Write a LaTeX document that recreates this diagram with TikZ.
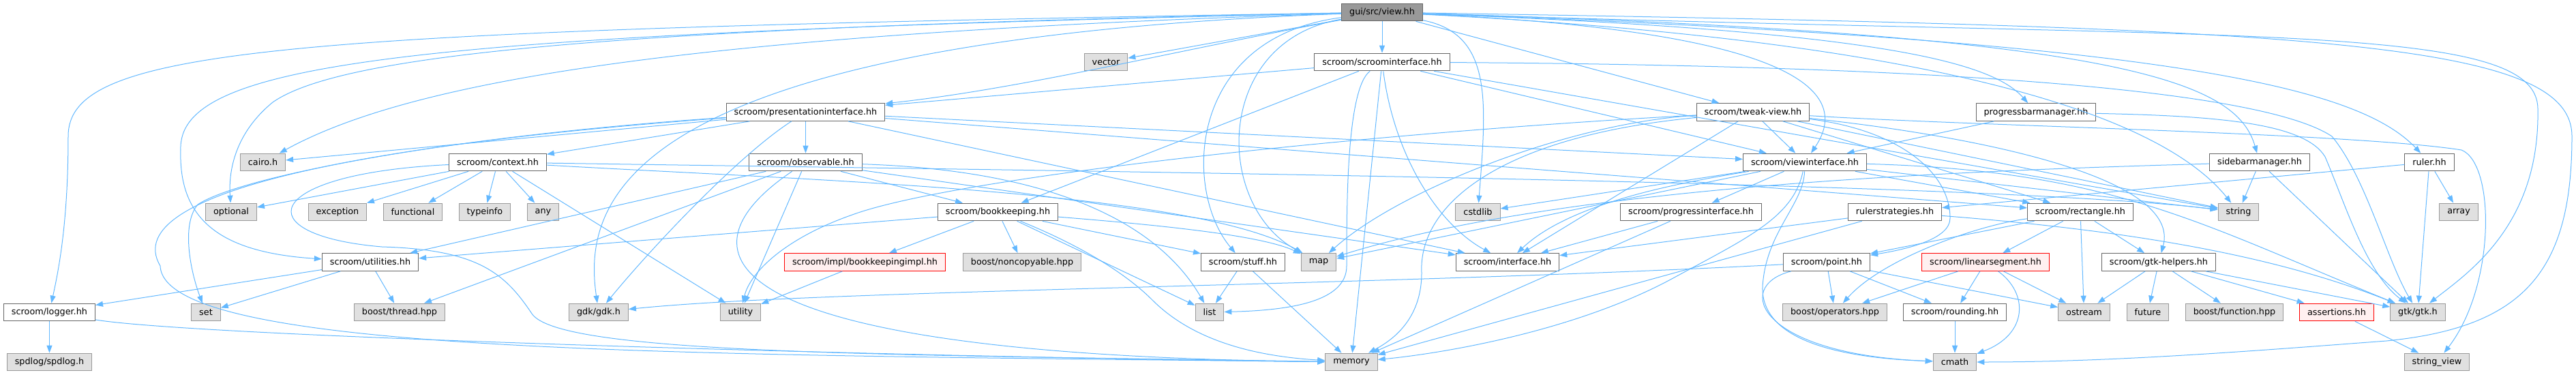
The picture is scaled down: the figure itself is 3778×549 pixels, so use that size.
\documentclass[tikz,border=0pt]{standalone}
\usepackage{fontspec}
\setmainfont{DejaVu Sans}
\usetikzlibrary{arrows.meta}
\definecolor{depblue}{HTML}{63B8FF}
\definecolor{boxgrey}{HTML}{666666}
\definecolor{sysgrey}{HTML}{999999}
\definecolor{sysfill}{HTML}{E0E0E0}
\definecolor{rootfill}{HTML}{999999}
\definecolor{cutfill}{HTML}{FFF0F0}
\tikzset{%
  filebox/.style = {shape=rectangle, draw=boxgrey, fill=white, line width=1pt,%
                    minimum height=25.7pt, inner xsep=11.5pt, inner ysep=0pt,%
                    font=\fontsize{12.8}{15}\selectfont},%
  sysbox/.style  = {filebox, draw=sysgrey, fill=sysfill},%
  rootbox/.style = {filebox, fill=rootfill},%
  cutbox/.style  = {filebox, draw=red, fill=cutfill},%
  dep/.style     = {draw=depblue, line width=1pt,%
                    -{Triangle[length=11pt,width=8pt]}}%
}
\begin{document}
\begin{tikzpicture}[x=1pt, y=-1pt]
\useasboundingbox (0,0) rectangle (3778,549);
% row 0
\node[rootbox] (view)        at (2027,18)      {gui/src/view.hh};
% row 1
\node[sysbox]  (vector)      at (1622,91)      {vector};
\node[filebox] (scroomif)    at (2027,91)      {scroom/scroominterface.hh};
% row 2
\node[filebox] (presif)      at (1181.5,164.5) {scroom/presentationinterface.hh};
\node[filebox] (tweakview)   at (2571,164.5)   {scroom/tweak-view.hh};
\node[filebox] (pbarmgr)     at (2986,164.5)   {progressbarmanager.hh};
% row 3
\node[sysbox]  (cairo)       at (385.5,238)    {cairo.h};
\node[filebox] (context)     at (730,238)      {scroom/context.hh};
\node[filebox] (observable)  at (1181.5,238)   {scroom/observable.hh};
\node[filebox] (viewif)      at (2647,238)     {scroom/viewinterface.hh};
\node[filebox] (sidebarmgr)  at (3314,238)     {sidebarmanager.hh};
\node[filebox] (ruler)       at (3563,238)     {ruler.hh};
% row 4
\node[sysbox]  (optional)    at (339,311)      {optional};
\node[sysbox]  (exception)   at (495,311)      {exception};
\node[sysbox]  (functional)  at (605.5,311)    {functional};
\node[sysbox]  (typeinfo)    at (711,311)      {typeinfo};
\node[sysbox]  (any)         at (796.5,311)    {any};
\node[filebox] (bookkeeping) at (1463.5,311)   {scroom/bookkeeping.hh};
\node[sysbox]  (cstdlib)     at (2167.5,311)   {cstdlib};
\node[filebox] (progressif)  at (2480,311)     {scroom/progressinterface.hh};
\node[filebox] (rulerstrat)  at (2779,311)     {rulerstrategies.hh};
\node[filebox] (rectangle)   at (3051,311)     {scroom/rectangle.hh};
\node[sysbox]  (string)      at (3283,311)     {string};
\node[sysbox]  (array)       at (3606,311)     {array};
% row 5
\node[filebox] (utilities)   at (543,384.5)    {scroom/utilities.hh};
\node[cutbox]  (bkimpl)      at (1268.5,384.5) {scroom/impl/bookkeepingimpl.hh};
\node[sysbox]  (noncopyable) at (1499,384.5)   {boost/noncopyable.hpp};
\node[filebox] (stuff)       at (1823,384.5)   {scroom/stuff.hh};
\node[sysbox]  (map)         at (1934,384.5)   {map};
\node[filebox] (interface)   at (2211,384.5)   {scroom/interface.hh};
\node[filebox] (point)       at (2679,384.5)   {scroom/point.hh};
\node[cutbox]  (linseg)      at (2912,384.5)   {scroom/linearsegment.hh};
\node[filebox] (gtkhelpers)  at (3166,384.5)   {scroom/gtk-helpers.hh};
% row 6
\node[filebox] (logger)      at (72.5,458)     {scroom/logger.hh};
\node[sysbox]  (set)         at (302,458)      {set};
\node[sysbox]  (thread)      at (586,458)      {boost/thread.hpp};
\node[sysbox]  (gdk)         at (878,458)      {gdk/gdk.h};
\node[sysbox]  (utility)     at (1086,458)     {utility};
\node[sysbox]  (list)        at (1774,458)     {list};
\node[sysbox]  (operators)   at (2691,458)     {boost/operators.hpp};
\node[filebox] (rounding)    at (2867,458)     {scroom/rounding.hh};
\node[sysbox]  (ostream)     at (3056.5,458)   {ostream};
\node[sysbox]  (future)      at (3150,458)     {future};
\node[sysbox]  (function)    at (3277,458)     {boost/function.hpp};
\node[cutbox]  (assertions)  at (3427,458)     {assertions.hh};
\node[sysbox]  (gtk)         at (3546,458)     {gtk/gtk.h};
% row 7
\node[sysbox]  (spdlog)      at (72.5,531)     {spdlog/spdlog.h};
\node[sysbox]  (memory)      at (1982,531)     {memory};
\node[sysbox]  (cmath)       at (2867,531)     {cmath};
\node[sysbox]  (stringview)  at (3574,531)     {string\_view};

% straight includes
\path (view) edge[dep] (scroomif) edge[dep] (vector) edge[dep] (tweakview);
\path (scroomif) edge[dep] (presif) edge[dep] (bookkeeping) edge[dep] (memory)
                 edge[dep] (viewif) edge[dep] (string);
\path (presif) edge[dep] (cairo) edge[dep] (context) edge[dep] (observable)
               edge[dep] (viewif) edge[dep] (rectangle) edge[dep] (interface);
\path (context) edge[dep] (optional) edge[dep] (exception) edge[dep] (functional)
                edge[dep] (typeinfo) edge[dep] (any) edge[dep] (utility);
\path (observable) edge[dep] (utilities) edge[dep] (thread) edge[dep] (utility)
                   edge[dep] (bookkeeping) edge[dep] (interface);
\path (bookkeeping) edge[dep] (bkimpl) edge[dep] (noncopyable) edge[dep] (list)
                    edge[dep] (stuff) edge[dep] (utilities);
\path (bkimpl) edge[dep] (utility);
\path (stuff) edge[dep] (list) edge[dep] (memory);
\path (utilities) edge[dep] (logger) edge[dep] (set) edge[dep] (thread);
\path (logger) edge[dep] (spdlog);
\path (tweakview) edge[dep] (viewif) edge[dep] (interface) edge[dep] (rectangle)
                  edge[dep] (string);
\path (pbarmgr) edge[dep] (viewif);
\path (viewif) edge[dep] (progressif) edge[dep] (cstdlib) edge[dep] (map)
               edge[dep] (rectangle) edge[dep] (string);
\path (progressif) edge[dep] (interface) edge[dep] (memory);
\path (rulerstrat) edge[dep] (interface) edge[dep] (memory);
\path (ruler) edge[dep] (rulerstrat) edge[dep] (array) edge[dep] (gtk);
\path (sidebarmgr) edge[dep] (string) edge[dep] (gtk);
\path (rectangle) edge[dep] (linseg) edge[dep] (ostream) edge[dep] (gtkhelpers)
                  edge[dep] (point);
\path (point) edge[dep] (operators) edge[dep] (rounding) edge[dep] (ostream);
\path (linseg) edge[dep] (operators) edge[dep] (rounding) edge[dep] (ostream);
\path (rounding) edge[dep] (cmath);
\path (gtkhelpers) edge[dep] (ostream) edge[dep] (future) edge[dep] (function)
                   edge[dep] (assertions) edge[dep] (gtk);
\path (assertions) edge[dep] (stringview);

% routed includes
\draw[dep] (view) .. controls (1720,75) and (1500,130) .. (presif);
\draw[dep] (view) .. controls (2620,45) and (2720,130) .. (viewif);
\draw[dep] (view) .. controls (2750,45) and (2920,90) .. (pbarmgr);
\draw[dep] (view) .. controls (3120,50) and (3280,120) .. (sidebarmgr);
\draw[dep] (view) .. controls (3200,60) and (3460,130) .. (ruler);
\draw[dep] (view) .. controls (2850,60) and (3170,170) .. (string);
\draw[dep] (view) .. controls (3300,60) and (3722,30) .. (3722,160)
                  .. controls (3725,330) and (3620,400) .. (gtk);
\draw[dep] (view) .. controls (3400,40) and (3772,60) .. (3772,200)
                  .. controls (3772,400) and (3700,480) .. (3500,500)
                  .. controls (3300,515) and (3100,531) .. (cmath);
\draw[dep] (view) .. controls (2190,50) and (2180,150) .. (cstdlib);
\draw[dep] (view) .. controls (1780,60) and (1780,300) .. (map);
\draw[dep] (view) .. controls (1740,55) and (1735,280) .. (stuff);
\draw[dep] (view) .. controls (900,40) and (500,80) .. (400,150)
                  .. controls (345,195) and (335,250) .. (optional);
\draw[dep] (view) .. controls (900,60) and (855,300) .. (gdk);
\draw[dep] (view) .. controls (1000,50) and (600,120) .. (cairo);
\draw[dep] (view) .. controls (600,50) and (260,90) .. (265,220)
                  .. controls (262,320) and (320,370) .. (utilities);
\draw[dep] (view) .. controls (400,45) and (100,70) .. (100,200)
                  .. controls (100,330) and (85,400) .. (logger);
\draw[dep] (scroomif) .. controls (1975,130) and (1975,300) .. (1975,390)
                      .. controls (1975,440) and (1900,455) .. (list);
\draw[dep] (scroomif) .. controls (2045,230) and (2110,330) .. (interface);
\draw[dep] (scroomif) .. controls (2700,95) and (3300,120) .. (3420,200)
                      .. controls (3470,260) and (3500,380) .. (gtk);
\draw[dep] (presif) .. controls (550,210) and (170,280) .. (235,390)
                    .. controls (240,520) and (1000,520) .. (memory);
\draw[dep] (presif) .. controls (650,200) and (350,260) .. (290,300)
                    .. controls (265,330) and (280,400) .. (set);
\draw[dep] (presif) .. controls (1080,230) and (950,370) .. (gdk);
\draw[dep] (context) .. controls (380,255) and (360,345) .. (560,362)
                     .. controls (700,366) and (740,400) .. (780,460)
                     .. controls (820,520) and (1300,520) .. (memory);
\draw[dep] (context) .. controls (1500,250) and (2900,265) .. (string);
\draw[dep] (context) .. controls (1200,265) and (1750,280) .. (map);
\draw[dep] (observable) .. controls (1000,360) and (1000,520) .. (memory);
\draw[dep] (observable) .. controls (1550,250) and (1700,330) .. (list);
\draw[dep] (bookkeeping) .. controls (1560,350) and (1640,390) .. (1690,440)
                         .. controls (1730,480) and (1800,520) .. (memory);
\draw[dep] (bookkeeping) .. controls (1700,330) and (1850,345) .. (map);
\draw[dep] (logger) .. controls (300,495) and (1400,525) .. (memory);
\draw[dep] (tweakview) .. controls (2300,180) and (2050,280) .. (map);
\draw[dep] (tweakview) .. controls (2200,200) and (2080,300) .. (2085,400)
                       .. controls (2085,470) and (2040,500) .. (memory);
\draw[dep] (tweakview) .. controls (2000,195) and (1400,260) .. (1250,315)
                       .. controls (1150,350) and (1100,400) .. (utility);
\draw[dep] (tweakview) .. controls (2780,190) and (2860,250) .. (2860,320)
                       .. controls (2860,350) and (2800,365) .. (point);
\draw[dep] (tweakview) .. controls (2900,200) and (3200,260) .. (gtkhelpers);
\draw[dep] (tweakview) .. controls (2900,185) and (3450,195) .. (3610,220)
                       .. controls (3660,240) and (3660,420) .. (stringview);
\draw[dep] (pbarmgr) .. controls (3250,170) and (3380,180) .. (3410,230)
                     .. controls (3440,300) and (3470,400) .. (gtk);
\draw[dep] (viewif) .. controls (2450,270) and (2300,300) .. (interface);
\draw[dep] (viewif) .. controls (2630,320) and (2560,350) .. (2450,410)
                    .. controls (2300,490) and (2100,520) .. (memory);
\draw[dep] (viewif) .. controls (2645,300) and (2590,340) .. (2585,420)
                    .. controls (2582,500) and (2700,525) .. (cmath);
\draw[dep] (viewif) .. controls (3100,250) and (3230,330) .. (gtk);
\draw[dep] (rulerstrat) .. controls (3150,340) and (3350,380) .. (gtk);
\draw[dep] (sidebarmgr) .. controls (2900,250) and (2300,270) .. (map);
\draw[dep] (rectangle) .. controls (2900,330) and (2760,380) .. (operators);
\draw[dep] (point) .. controls (2000,420) and (1200,425) .. (gdk);
\draw[dep] (point) .. controls (2540,420) and (2580,520) .. (cmath);
\draw[dep] (linseg) .. controls (2975,430) and (2975,490) .. (cmath);
\end{tikzpicture}
\end{document}
